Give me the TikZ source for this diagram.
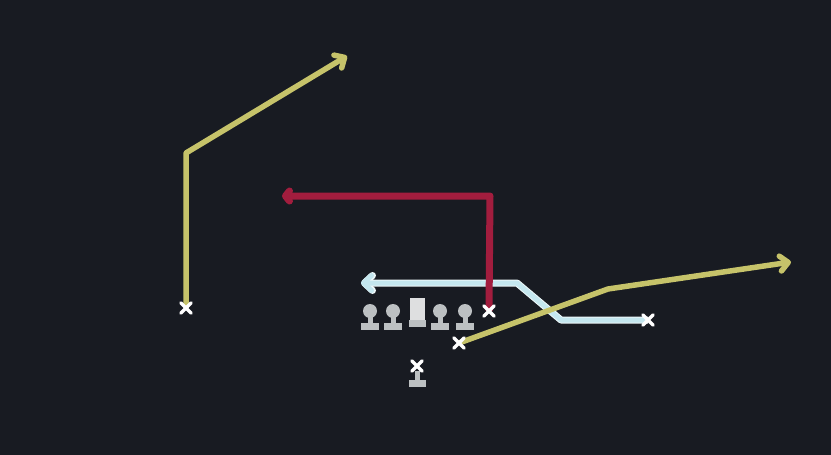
\documentclass[tikz,border=0pt]{standalone}
\usetikzlibrary{arrows.meta,shapes.misc}
\definecolor{bgc}{HTML}{181B22}
\definecolor{ylw}{HTML}{C6C36A}
\definecolor{rd}{HTML}{A21D3E}
\definecolor{blu}{HTML}{C4E7EF}
\definecolor{plr}{HTML}{BCC0C2}
\pgfdeclarelayer{back}
\pgfsetlayers{back,main}
\begin{document}
\begin{tikzpicture}[x=1pt,y=-1pt,
  xmark/.style={cross out, draw=white, line width=3.2pt, line cap=round, minimum size=7.5pt, inner sep=0pt},
  route/.style={line width=5.5pt, line join=round},
  yarrow/.style={-{Straight Barb[length=8pt,width=15pt,line join=round,line cap=round]}},
  lineman/.pic={
    \fill[plr] (0,0) circle (7);
    \fill[plr] (-2.5,4) rectangle (2.5,13);
    \fill[plr] (-9,12) rectangle (9,19);
  },
  centerman/.pic={
    \fill[plr!50!white] (-7.5,-13) rectangle (7.5,11);
    \fill[plr] (-8.5,9) rectangle (8.5,16);
  },
  qbstand/.pic={
    \fill[plr] (-2.5,5) rectangle (2.5,15);
    \fill[plr] (-8.5,14) rectangle (8.5,21);
  }
]
\useasboundingbox (0,0) rectangle (831,455);
% players
\pic at (370,311) {lineman};
\pic at (393,311) {lineman};
\pic at (417,311) {centerman};
\pic at (440,311) {lineman};
\pic at (465,311) {lineman};
\pic at (417,366) {qbstand};
% route starts
\node[xmark] (wl) at (186,308) {};
\node[xmark] (te) at (489,311) {};
\node[xmark] (sl) at (648,320) {};
\node[xmark] (rb) at (459,343) {};
\node[xmark] (qb) at (417,366) {};
% bends
\coordinate (wlc) at (186,153);
\coordinate (wle) at (347,56);
\coordinate (tec) at (490,196);
\coordinate (tee) at (282,196);
\coordinate (sla) at (561,320);
\coordinate (slb) at (517,283);
\coordinate (sle) at (361,283);
\coordinate (rbc) at (608,289);
\coordinate (rbe) at (791,262);
\begin{pgfonlayer}{back}
  \fill[bgc] (0,0) rectangle (831,455);
  \draw[route, line width=7pt, white!70!blu, -{Straight Barb[length=8pt,width=15pt,line join=round,line cap=round]}] (sl.center) -- (sla) -- (slb) -- (sle);
  \draw[route, blu, line width=5pt, -{Straight Barb[length=8pt,width=15pt,line join=round,line cap=round]}] (sl.center) -- (sla) -- (slb) -- (sle);
  \draw[route, line width=7pt, rd, -{Straight Barb[length=4pt,width=10pt,line join=round,line cap=round]}] (te.center) -- (tec) -- (tee);
  \draw[route, ylw, yarrow] (wl.center) -- (wlc) -- (wle);
  \draw[route, ylw, yarrow] (rb.center) -- (rbc) -- (rbe);
\end{pgfonlayer}
\end{tikzpicture}
\end{document}
